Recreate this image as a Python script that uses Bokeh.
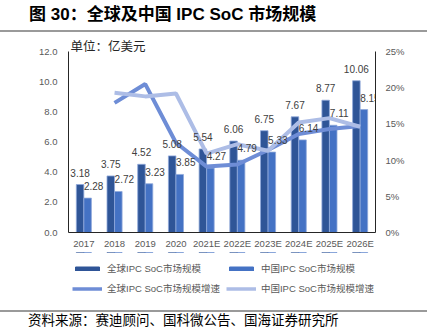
from bokeh.plotting import figure
from bokeh.layouts import column
from bokeh.models import (FactorRange, Range1d, LinearAxis, FixedTicker, PrintfTickFormatter,
                          ColumnDataSource, Legend, LegendItem, Div)
from bokeh.transform import dodge
from bokeh.core.properties import value
from bokeh.embed import file_html
from bokeh.resources import INLINE

years = ["2017", "2018", "2019", "2020", "2021E", "2022E", "2023E", "2024E", "2025E", "2026E"]
global_size = [3.18, 3.75, 4.52, 5.08, 5.54, 6.06, 6.75, 7.67, 8.77, 10.06]
china_size = [2.28, 2.72, 3.23, 3.85, 4.27, 4.79, 5.33, 6.14, 7.11, 8.15]
growth_years = years[1:]
global_growth = [17.9, 20.5, 12.4, 9.1, 9.4, 11.4, 13.6, 14.3, 14.7]   # %
china_growth = [19.3, 18.8, 19.2, 10.9, 12.2, 11.3, 15.2, 15.8, 14.6]   # %
left_ticks = [0, 2, 4, 6, 8, 10, 12]
right_ticks = [0, 5, 10, 15, 20, 25]

title_text = "图 30：全球及中国 IPC SoC 市场规模"
unit_text = "单位：亿美元"
source_text = "资料来源：赛迪顾问、国科微公告、国海证券研究所"
names = ["全球IPC SoC市场规模", "中国IPC SoC市场规模", "全球IPC SoC市场规模增速", "中国IPC SoC市场规模增速"]

C_GLOBAL = "#2F5597"
C_CHINA = "#4472C4"
C_GG = "#6E8DD6"
C_CG = "#ADBDE6"
C_EDGE = "#8FA8DA"
C_RULE = "#9A9A9A"
MIX = "Liberation Sans, Noto Sans CJK SC"
CJK = "Noto Sans CJK SC"
LAT = "Liberation Sans"

W = 427
p = figure(width=W, height=220, x_range=FactorRange(*years), y_range=Range1d(0, 12),
           output_backend="svg", toolbar_location=None,
           min_border_left=68, min_border_right=52, min_border_top=19, min_border_bottom=20)
p.extra_y_ranges = {"pct": Range1d(0, 25)}
p.outline_line_color = None
p.xgrid.visible = False
p.ygrid.visible = False
p.background_fill_color = "white"
p.border_fill_color = "white"

# unit title above frame
p.title.text = unit_text
p.title.align = "left"
p.title.offset = 2
p.title.standoff = -6
p.title.text_font = CJK
p.title.text_font_style = "normal"
p.title.text_font_size = "12.5px"
p.title.text_color = "#262626"

src = ColumnDataSource(dict(year=years, g=global_size, c=china_size,
                            gl=[f"{v:.2f}" for v in global_size],
                            cl=[f"{v:.2f}" for v in china_size]))
gsrc = ColumnDataSource(dict(year=growth_years, gg=global_growth, cg=china_growth))

bw = 0.245
p.vbar(x=dodge("year", -0.123, range=p.x_range), top="g", width=bw, source=src,
       fill_color=C_GLOBAL, line_color=C_EDGE, line_width=0.8)
p.vbar(x=dodge("year", 0.123, range=p.x_range), top="c", width=bw, source=src,
       fill_color=C_CHINA, line_color=C_EDGE, line_width=0.8)

p.line(x="year", y="gg", source=gsrc, y_range_name="pct", line_color=C_GG, line_width=4)
p.line(x="year", y="cg", source=gsrc, y_range_name="pct", line_color=C_CG, line_width=4)

p.text(x=dodge("year", -0.123, range=p.x_range), y="g", text="gl", source=src, y_offset=-12,
       text_align="center", text_baseline="middle", text_font=value(LAT),
       text_font_size="10px", text_color="#404040")
p.text(x=dodge("year", 0.123, range=p.x_range), y="c", text="cl", source=src, y_offset=-12, x_offset=6,
       text_align="center", text_baseline="middle", text_font=value(LAT),
       text_font_size="10px", text_color="#404040")

# axes
ax = p.yaxis[0]
ax.ticker = FixedTicker(ticks=left_ticks)
ax.formatter = PrintfTickFormatter(format="%.1f")
xa = p.xaxis[0]
ra = LinearAxis(y_range_name="pct", ticker=FixedTicker(ticks=right_ticks),
                formatter=PrintfTickFormatter(format="%d%%"))
p.add_layout(ra, "right")
for a in (ax, xa, ra):
    a.major_tick_line_color = None
    a.minor_tick_line_color = None
    a.major_tick_out = 0
    a.major_tick_in = 0
    a.axis_line_color = "#262626"
    a.axis_line_width = 1
    a.major_label_text_font = LAT
    a.major_label_text_font_size = "9.5px"
    a.major_label_text_color = "#595959"
ax.major_label_standoff = 11
ra.major_label_standoff = 10
xa.major_label_standoff = 5

# legend figure: same data drawn out of view, only the legend is visible
lf = figure(width=W, height=58, output_backend="svg", toolbar_location=None,
            min_border_left=68, min_border_right=52, min_border_top=0, min_border_bottom=0,
            x_axis_type=None, y_axis_type=None, x_range=p.x_range, y_range=Range1d(-20, -19))
lf.outline_line_color = None
lf.xgrid.visible = False
lf.ygrid.visible = False
lf.border_fill_color = "white"
l1 = lf.vbar(x=dodge("year", -0.123, range=lf.x_range), top="g", width=bw, source=src,
             fill_color=C_GLOBAL, line_color=C_GLOBAL)
l2 = lf.vbar(x=dodge("year", 0.123, range=lf.x_range), top="c", width=bw, source=src,
             fill_color=C_CHINA, line_color=C_CHINA)
l3 = lf.line(x="year", y="gg", source=gsrc, line_color=C_GG, line_width=3.5)
l4 = lf.line(x="year", y="cg", source=gsrc, line_color=C_CG, line_width=3.5)
legend = Legend(items=[LegendItem(label=names[0], renderers=[l1]),
                       LegendItem(label=names[2], renderers=[l3]),
                       LegendItem(label=names[1], renderers=[l2]),
                       LegendItem(label=names[3], renderers=[l4])],
                ncols=2, location=(4, 15), padding=0, margin=0, spacing=6,
                glyph_width=30, glyph_height=5, label_height=14, label_standoff=5,
                label_text_font=MIX, label_text_font_size="9.5px", label_text_color="#595959",
                border_line_color=None, background_fill_alpha=0)
lf.add_layout(legend, "center")


def rule_div():
    return Div(text="", width=W, height=2, margin=0,
               styles={"background-color": C_RULE, "width": f"{W}px", "height": "2px",
                       "display": "block"})


title_div = Div(text=('<div style="font-family:\'Liberation Sans\',\'Noto Sans CJK SC\';font-weight:bold;'
                      'font-size:17px;line-height:30px;padding-left:29px;color:#000;white-space:nowrap;">'
                      + title_text + '</div>'), width=W, height=30, margin=0)
source_div = Div(text=('<div style="font-family:\'Noto Sans CJK SC\';font-size:13.5px;line-height:14px;'
                       'padding-left:28px;color:#000;white-space:nowrap;">' + source_text + '</div>'),
                 width=W, height=15, margin=0)

layout = column(title_div, rule_div(), p, lf, rule_div(), source_div, spacing=0)
open("out.html", "w").write(file_html(layout, INLINE))
